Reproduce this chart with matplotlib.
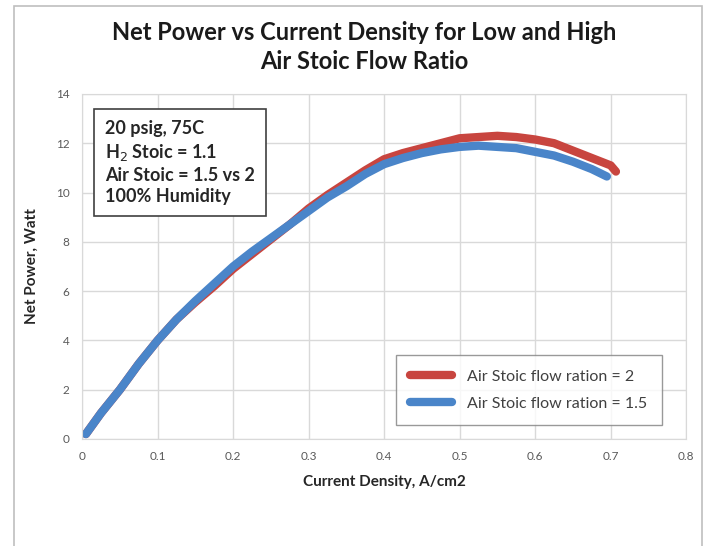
import matplotlib
matplotlib.use("Agg")
import matplotlib.pyplot as plt
from matplotlib.patches import Rectangle
import numpy as np

plt.rcParams['font.family'] = ['Lato', 'DejaVu Sans']

x_red = [0.005, 0.025, 0.05, 0.075, 0.1, 0.125, 0.15, 0.175, 0.2, 0.225, 0.25, 0.275, 0.3, 0.325,
         0.35, 0.375, 0.4, 0.425, 0.45, 0.475, 0.5, 0.525, 0.55, 0.575, 0.6, 0.625, 0.65, 0.675, 0.7, 0.707]
p_red = [0.2, 1.05, 2.0, 3.05, 4.0, 4.85, 5.55, 6.2, 6.9, 7.5, 8.1, 8.7, 9.35, 9.9,
         10.4, 10.9, 11.35, 11.6, 11.8, 12.0, 12.2, 12.25, 12.3, 12.25, 12.15, 12.0, 11.7, 11.4, 11.1, 10.85]
x_blue = [0.005, 0.025, 0.05, 0.075, 0.1, 0.125, 0.15, 0.175, 0.2, 0.225, 0.25, 0.275, 0.3, 0.325,
          0.35, 0.375, 0.4, 0.425, 0.45, 0.475, 0.5, 0.525, 0.55, 0.575, 0.6, 0.625, 0.65, 0.675, 0.695]
p_blue = [0.2, 1.05, 2.0, 3.05, 4.0, 4.85, 5.6, 6.3, 7.0, 7.6, 8.15, 8.7, 9.25, 9.8,
          10.25, 10.75, 11.15, 11.4, 11.6, 11.75, 11.85, 11.9, 11.85, 11.8, 11.65, 11.5, 11.25, 10.95, 10.65]

label_red = "Air Stoic flow ration = 2"
label_blue = "Air Stoic flow ration = 1.5"
note_lines = ["20 psig, 75C", "H$_2$ Stoic = 1.1", "Air Stoic = 1.5 vs 2", "100% Humidity"]

fig = plt.figure(figsize=(7.14, 5.46), dpi=100)
ax = fig.add_axes([0.115, 0.196, 0.846, 0.632])

# outer chart frame
fig.patches.append(Rectangle((14/714, -0.05), 688/714, 1.05 - 6/546, transform=fig.transFigure,
                             fill=False, edgecolor='#BFBFBF', linewidth=1.2))

ax.plot(x_red, p_red, color='#C8453F', linewidth=6, solid_capstyle='round', label=label_red)
ax.plot(x_blue, p_blue, color='#4A85C9', linewidth=6, solid_capstyle='round', label=label_blue)

ax.set_xlim(0, 0.8)
ax.set_ylim(0, 14)
ax.set_xticks(np.arange(0, 0.81, 0.1))
ax.set_xticklabels(['0', '0.1', '0.2', '0.3', '0.4', '0.5', '0.6', '0.7', '0.8'])
ax.set_yticks(range(0, 15, 2))
ax.tick_params(length=0, labelsize=8.5, colors='#595959', pad=9)
ax.grid(True, color='#D9D9D9', linewidth=1)
ax.set_axisbelow(True)
for s in ax.spines.values():
    s.set_color('#D9D9D9')

ax.set_xlabel("Current Density, A/cm2", fontsize=11, fontweight='bold', color='#262626', labelpad=9)
ax.set_ylabel("Net Power, Watt", fontsize=11, fontweight='bold', color='#262626', labelpad=12)

fig.text(0.51, 0.914, "Net Power vs Current Density for Low and High\nAir Stoic Flow Ratio",
         ha='center', va='center', fontsize=17, fontweight='bold', color='#1a1a1a', linespacing=1.3)

ax.text(0.038, 0.925, "\n".join(note_lines), transform=ax.transAxes, ha='left', va='top',
        fontsize=13, fontweight='bold', color='#262626', linespacing=1.3,
        bbox=dict(boxstyle='square,pad=0.6', facecolor='white', edgecolor='#404040', linewidth=1.2))

leg = ax.legend(loc='lower right', bbox_to_anchor=(0.96, 0.04), fontsize=11.5, frameon=True,
                fancybox=False, edgecolor='#808080', handlelength=2.6, borderpad=0.9,
                labelspacing=0.8, handletextpad=1.0, borderaxespad=0)
for t in leg.get_texts():
    t.set_color('#404040')

fig.savefig("out.png", dpi=100)
